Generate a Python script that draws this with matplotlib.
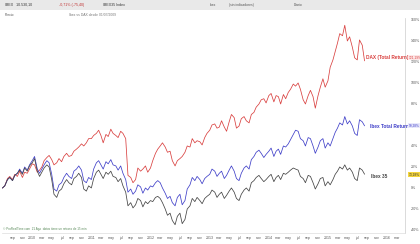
import numpy as np
import pandas as pd
import matplotlib.pyplot as plt
import matplotlib.dates as mdates

plt.rcParams["font.family"] = ["Liberation Sans", "DejaVu Sans"]

# semi-monthly closes, % change since start (Jul 2009)
dates = pd.date_range("2009-07-01", periods=148, freq="SMS")

dax = [0, 2, 9, 11, 8, 13, 11, 16, 10, 15, 14, 18,
       23, 22, 15, 17, 20, 26, 29, 31, 27, 22, 24, 28, 25, 30, 33, 30, 31, 35, 37, 39, 42, 40, 43, 47,
       47, 50, 52, 55, 50, 43, 51, 49, 56, 52, 50, 48, 54, 52, 47, 12, 10, 5, 8, 19, 16, 18, 21, 15,
       19, 26, 33, 37, 40, 43, 39, 34, 35, 26, 21, 26, 28, 30, 34, 40, 39, 47, 43, 45, 44, 41, 48, 52,
       55, 60, 61, 57, 58, 64, 58, 54, 63, 70, 67, 57, 59, 66, 68, 64, 62, 70, 72, 77, 80, 84, 85, 81,
       88, 90, 82, 88, 87, 80, 89, 85, 91, 94, 99, 97, 100, 94, 84, 80, 88, 93, 87, 76, 88, 96, 104, 96,
       102, 115, 122, 130, 138, 147, 145, 155, 140, 144, 134, 124, 122, 141, 136, 121.19]

ibex_tr = [0, 2, 8, 10, 7, 12, 14, 18, 14, 20, 17, 22,
           26, 30, 18, 14, 18, 22, 26, 24, 13, -1, -3, 3, 5, 10, 14, 11, 9, 16, 18, 21, 17, 7, 5, 10,
           8, 18, 24, 26, 22, 18, 25, 23, 27, 22, 21, 17, 21, 14, 8, -4, -1, -6, -3, 3, 1, -5, 0, -2,
           2, 1, 5, 7, 5, 0, -5, -10, -8, -14, -17, -9, -6, -16, -12, -1, 3, 10, 7, 11, 8, 4, 9, 11,
           13, 18, 16, 11, 14, 16, 9, 12, 17, 21, 16, 9, 7, 14, 19, 21, 18, 27, 30, 34, 36, 33, 29, 32,
           35, 38, 30, 35, 37, 32, 40, 39, 42, 46, 51, 55, 54, 47, 45, 40, 48, 47, 40, 33, 39, 45, 47, 38,
           43, 40, 47, 53, 57, 62, 60, 68, 61, 64, 59, 52, 50, 65, 63, 59.28]

ibex = [0, 2, 8, 10, 7, 12, 14, 17, 13, 19, 16, 21,
        24, 28, 16, 11, 15, 19, 22, 20, 8, -6, -9, -3, -1, 4, 8, 5, 3, 9, 11, 14, 10, -1, -3, 2,
        0, 9, 15, 17, 13, 9, 15, 13, 16, 11, 10, 6, 9, 2, -4, -17, -14, -19, -16, -10, -12, -18, -13, -15,
        -12, -13, -9, -8, -10, -14, -20, -26, -24, -31, -35, -27, -24, -34, -30, -20, -17, -10, -13, -9, -12, -15, -10, -8,
        -6, -2, -4, -9, -6, -4, -10, -7, -3, 0, -4, -10, -12, -6, -2, 0, -3, 5, 7, 10, 12, 9, 6, 8,
        11, 13, 6, 10, 12, 8, 14, 13, 15, 17, 19, 18, 17, 11, 9, 5, 12, 11, 5, -1, 4, 9, 10, 2,
        6, 3, 8, 13, 16, 20, 18, 22, 17, 19, 15, 9, 7, 19, 17, 13.18]

names = ["DAX (Total Return)", "Ibex Total Return", "Ibex 35"]
last_labels = ["121,19%", "59,28%", "13,18%"]
colors = ["#d9403f", "#3f3fc8", "#444444"]

fig = plt.figure(figsize=(4.2, 2.44), dpi=100)

# toolbar strip
fig.patches.append(plt.Rectangle((0, 234 / 244), 1, 10 / 244, transform=fig.transFigure,
                                 facecolor="#e9e9e9", edgecolor="none"))
fig.text(0.012, 239 / 244, "IBEX   10.530,10", fontsize=2.6, color="#333333", va="center")
fig.text(0.14, 239 / 244, "-0,71% (-75,40)", fontsize=2.6, color="#c03030", va="center")
fig.text(0.245, 239 / 244, "IBEX35 Index", fontsize=2.6, color="#333333", va="center")
fig.text(0.012, 229 / 244, "Precio", fontsize=2.4, color="#555555", va="center")
fig.text(0.165, 229 / 244, "Ibex vs DAX desde 01/07/2009", fontsize=2.4, color="#777777", va="center")
fig.text(0.5, 239 / 244, "Ibex", fontsize=2.4, color="#555555", va="center")
fig.text(0.545, 239 / 244, "(sin indicadores)", fontsize=2.4, color="#555555", va="center")
fig.text(0.7, 239 / 244, "Diario", fontsize=2.4, color="#555555", va="center")

ax = fig.add_axes([2 / 420, 11 / 244, 403 / 420, 215 / 244])

for vals, col in zip([dax, ibex_tr, ibex], colors):
    ax.plot(dates, vals, color=col, lw=0.55)

ax.set_ylim(-42.9, 161.9)
ax.set_xlim(pd.Timestamp("2009-06-28"), pd.Timestamp("2016-04-21"))

# price scale on the right; 60% sits under the Ibex TR value box
ax.yaxis.tick_right()
ax.set_yticks(range(-40, 161, 20))
ax.set_yticklabels(["" if v == 60 else f"{v}%" for v in range(-40, 161, 20)])
ax.tick_params(axis="y", length=0, pad=4, labelsize=2.6, labelcolor="#555555")

ticks = pd.date_range("2009-09-01", "2016-03-01", freq="2MS")
months = {1: "", 3: "mar", 5: "may", 7: "jul", 9: "sep", 11: "nov"}
ax.set_xticks(ticks)
ax.set_xticklabels([str(t.year) if t.month == 1 else months[t.month] for t in ticks])
ax.tick_params(axis="x", length=0, pad=2.5, labelsize=2.6, labelcolor="#555555")

for s in ["top", "left"]:
    ax.spines[s].set_visible(False)
ax.spines["right"].set_color("#cccccc")
ax.spines["bottom"].set_color("#dddddd")
for s in ["right", "bottom"]:
    ax.spines[s].set_linewidth(0.5)

# series names next to the line ends
label_pos = [("2015-08-22", 124.5), ("2015-09-18", 59), ("2015-09-25", 11)]
for name, col, (d, y) in zip(names, colors, label_pos):
    ax.text(pd.Timestamp(d), y, name, color=col, fontsize=3.4, fontweight="bold", va="center")

# last value boxes on the price scale
trans = ax.get_yaxis_transform()
box_styles = [("#d9403f", "#fde8e8"), ("#3f3fc8", "#e8e8fb"), ("#333333", "#f5d63d")]
box_shift = [2.5, 0, 0]
for lab, v, (fc, bg), dy in zip(last_labels, [dax[-1], ibex_tr[-1], ibex[-1]], box_styles, box_shift):
    ax.annotate(lab, xy=(1.0, v), xycoords=trans, xytext=(2.5, dy), textcoords="offset points",
                fontsize=2.3, color=fc, va="center", ha="left",
                bbox=dict(boxstyle="square,pad=0.12", fc=bg, ec="none"))

fig.text(0.008, 15 / 244, "© ProRealTime.com  21 Ago  datos tiene un retraso de 15 min",
         fontsize=2.2, color="#5a8a5a", va="center")

fig.savefig("out.png", dpi=100)
